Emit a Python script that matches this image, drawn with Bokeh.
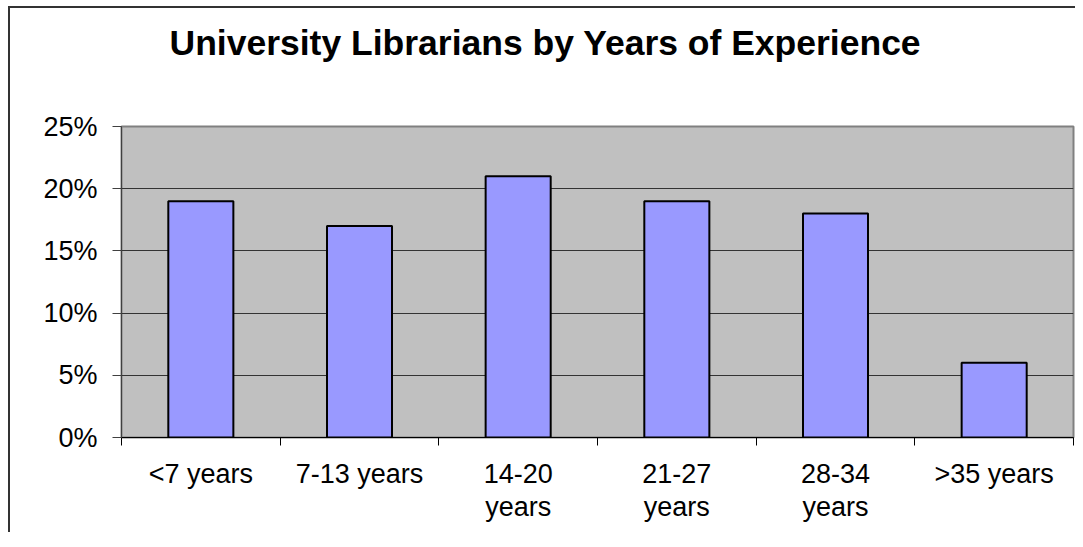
from bokeh.plotting import figure
from bokeh.models import FixedTicker, NumeralTickFormatter, Title, Range1d, CustomJSTickFormatter
from bokeh.embed import file_html
from bokeh.resources import INLINE

# ---- data ----
categories = ["<7 years", "7-13 years", "14-20\nyears", "21-27\nyears", "28-34\nyears", ">35 years"]
shares = [0.19, 0.17, 0.21, 0.19, 0.18, 0.06]
y_ticks = [0.0, 0.05, 0.10, 0.15, 0.20, 0.25]
title_text = "University Librarians by Years of Experience"

FONT = "Liberation Sans"
n = len(categories)
centers = [i + 0.5 for i in range(n)]
boundaries = list(range(n + 1))

p = figure(
    frame_width=952, frame_height=311,
    x_range=Range1d(0, n), y_range=Range1d(0, 0.25),
    output_backend="svg", toolbar_location=None,
    min_border_left=111, min_border_right=2, min_border_top=118, min_border_bottom=95,
)
p.styles = {"border-left": "2px solid #333333", "border-top": "2px solid #333333",
            "margin-left": "8px", "margin-top": "6px"}

p.background_fill_color = "#C0C0C0"
p.border_fill_color = "white"
p.outline_line_color = "#808080"
p.outline_line_width = 2

p.vbar(x=centers, top=shares, bottom=0, width=0.41,
       fill_color="#9999FF", line_color="black", line_width=2)

# x axis: labels at centres, ticks at category boundaries
xa = p.xaxis[0]
xa.ticker = FixedTicker(ticks=centers, minor_ticks=boundaries)
xa.formatter = CustomJSTickFormatter(args=dict(labels=categories),
                                     code="return labels[Math.floor(tick)];")
xa.major_tick_out = 0
xa.major_tick_in = 0
xa.minor_tick_out = 8
xa.minor_tick_in = 0
xa.minor_tick_line_color = "black"
xa.axis_line_color = "black"
xa.major_label_text_font = FONT
xa.major_label_text_font_size = "27px"
xa.major_label_text_color = "black"
xa.major_label_text_line_height = 1.1
xa.major_label_standoff = 13

ya = p.yaxis[0]
ya.ticker = FixedTicker(ticks=y_ticks)
ya.formatter = NumeralTickFormatter(format="0%")
ya.major_tick_out = 9
ya.major_tick_in = 0
ya.minor_tick_line_color = None
ya.major_tick_line_color = "#404040"
ya.axis_line_color = "#404040"
ya.major_label_text_font = FONT
ya.major_label_text_font_size = "27px"
ya.major_label_text_color = "black"
ya.major_label_standoff = 15

p.xgrid.visible = False
p.ygrid.ticker = FixedTicker(ticks=y_ticks)
p.ygrid.grid_line_color = "#333333"
p.ygrid.grid_line_width = 1

# chart title, with an empty spacer panel between it and the plot area
main_title = Title(text=title_text, align="left", offset=48, standoff=10,
                   text_font=FONT, text_font_size="35.5px", text_font_style="bold",
                   text_color="black")
spacer = Title(text=" ", standoff=56, text_font_size="1px")
p.above = [spacer, main_title]

open("out.html", "w").write(file_html(p, INLINE))
